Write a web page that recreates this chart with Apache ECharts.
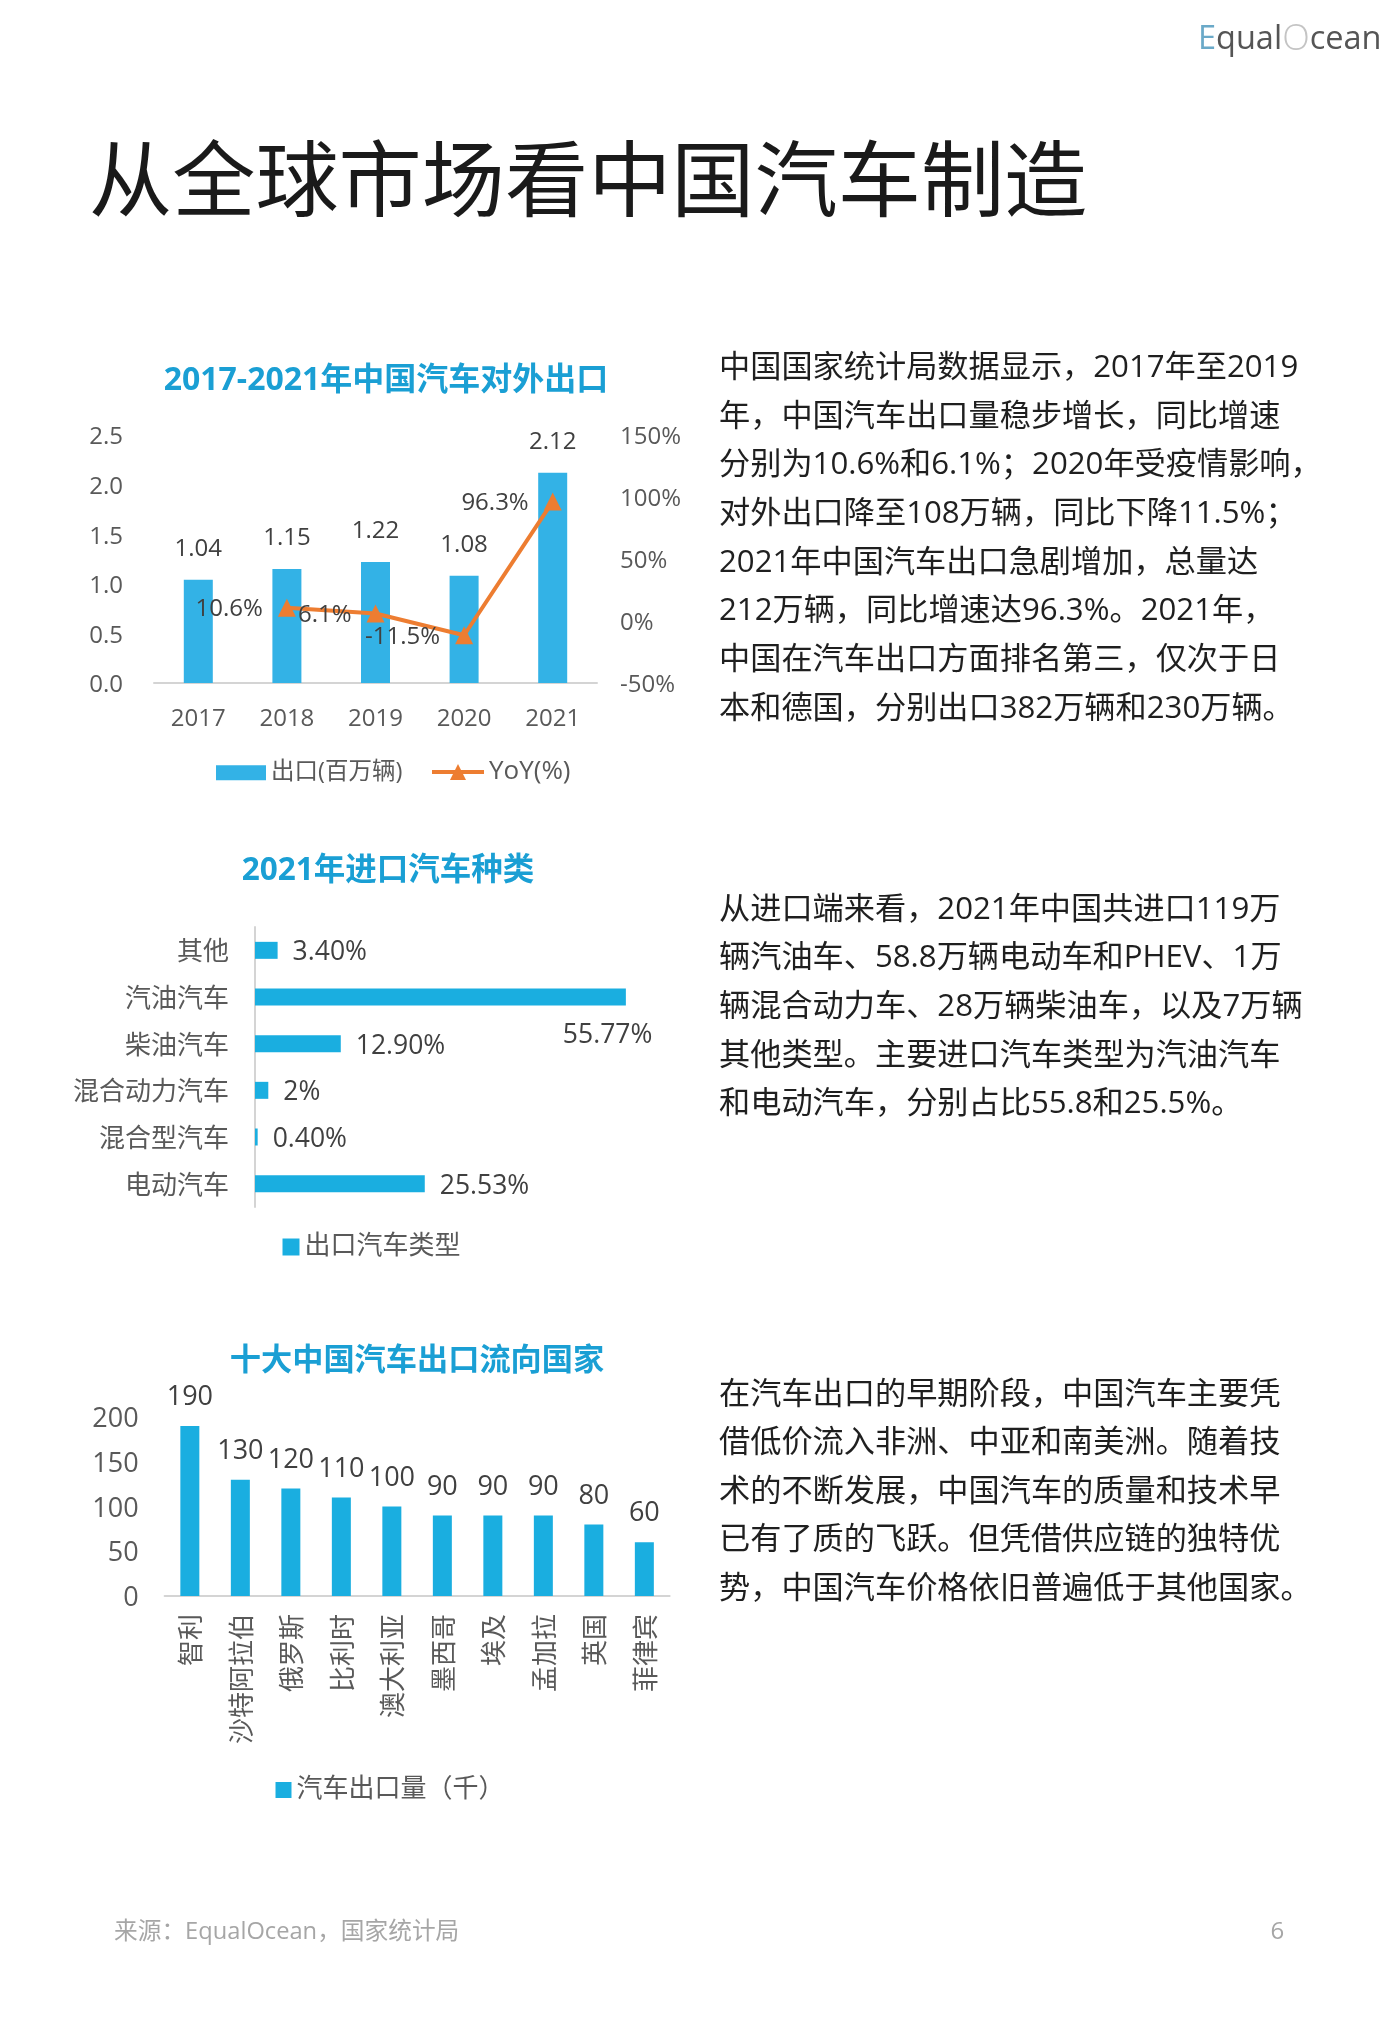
<![CDATA[<!DOCTYPE html>
<html><head><meta charset="utf-8">
<style>html,body{margin:0;padding:0;background:#fff}#c{width:1400px;height:2022px}</style>
<script src="https://cdn.jsdelivr.net/npm/echarts@6/dist/echarts.min.js"></script>
</head><body><div id="c"></div>
<script>
const years = ['2017','2018','2019','2020','2021'];
const exportsM = [1.04,1.15,1.22,1.08,2.12];
const yoy = [null,10.6,6.1,-11.5,96.3];
const importTypes = ['其他','汽油汽车','柴油汽车','混合动力汽车','混合型汽车','电动汽车'];
const importShare = [3.40,55.77,12.90,2,0.40,25.53];
const importLabels = ['3.40%','55.77%','12.90%','2%','0.40%','25.53%'];
const countries = ['智利','沙特阿拉伯','俄罗斯','比利时','澳大利亚','墨西哥','埃及','孟加拉','英国','菲律宾'];
const countryExports = [190,130,120,110,100,90,90,90,80,60];
const para1 = ['中国国家统计局数据显示，2017年至2019','年，中国汽车出口量稳步增长，同比增速','分别为10.6%和6.1%；2020年受疫情影响，','对外出口降至108万辆，同比下降11.5%；','2021年中国汽车出口急剧增加，总量达','212万辆，同比增速达96.3%。2021年，','中国在汽车出口方面排名第三，仅次于日','本和德国，分别出口382万辆和230万辆。'];
const para2 = ['从进口端来看，2021年中国共进口119万','辆汽油车、58.8万辆电动车和PHEV、1万','辆混合动力车、28万辆柴油车，以及7万辆','其他类型。主要进口汽车类型为汽油汽车','和电动汽车，分别占比55.8和25.5%。'];
const para3 = ['在汽车出口的早期阶段，中国汽车主要凭','借低价流入非洲、中亚和南美洲。随着技','术的不断发展，中国汽车的质量和技术早','已有了质的飞跃。但凭借供应链的独特优','势，中国汽车价格依旧普遍低于其他国家。'];

const F = '"Open Sans","Noto Sans CJK SC",sans-serif';
const BLUE1 = '#33b2e6', BLUE2 = '#1aaee0', ORANGE = '#ed7d31', AX = '#595959', LB = '#404040', TT = '#1a9fd4', LINE = '#d4d4d4';

const textLines = (lines, x, y0, dy) => lines.map((t,i)=>({type:'text',style:{text:t,x:x,y:y0+i*dy,font:'400 31.2px '+F,fill:'#1f1f1f',textVerticalAlign:'middle'}}));
const chartTitle = (t,cx,cy,fs)=>({type:'text',style:{text:t,x:cx,y:cy,font:'700 '+fs+'px '+F,fill:TT,textAlign:'center',textVerticalAlign:'middle'}});
const nudge = (size,color,top)=>({n:{fontSize:size,color:color,fontFamily:F,padding:[top,0,0,0]}});
const wrap = s=>'{n|'+s+'}';

const option = {
  animation:false,
  backgroundColor:'#fff',
  textStyle:{fontFamily:F},
  grid:[
    {left:154,top:435,width:443,height:248},
    {left:255,top:927,width:399,height:280},
    {left:164.6,top:1417,width:505,height:179}
  ],
  xAxis:[
    {gridIndex:0,type:'category',data:years,axisTick:{show:false},axisLine:{lineStyle:{color:LINE,width:2}},axisLabel:{fontSize:24,color:AX,margin:24,fontFamily:F}},
    {gridIndex:1,type:'value',min:0,max:60,show:false},
    {gridIndex:2,type:'category',data:countries,axisTick:{show:false},axisLine:{lineStyle:{color:LINE,width:2}},axisLabel:{color:AX,fontSize:26,margin:18,rotate:90,interval:0,fontFamily:F,formatter:wrap,rich:nudge(26,AX,6)}}
  ],
  yAxis:[
    {gridIndex:0,type:'value',min:0,max:2.5,interval:0.5,splitLine:{show:false},axisLine:{show:false},axisTick:{show:false},axisLabel:{fontSize:24,color:AX,margin:31,formatter:v=>wrap(v.toFixed(1)),rich:nudge(24,AX,5),fontFamily:F}},
    {gridIndex:0,type:'value',position:'right',min:-50,max:150,interval:50,splitLine:{show:false},axisLine:{show:false},axisTick:{show:false},axisLabel:{fontSize:24,color:AX,margin:23,formatter:v=>wrap(v+'%'),rich:nudge(24,AX,5),fontFamily:F}},
    {gridIndex:1,type:'category',inverse:true,data:importTypes,axisTick:{show:false},axisLine:{lineStyle:{color:LINE,width:2}},axisLabel:{fontSize:26,color:AX,margin:26,formatter:wrap,rich:nudge(26,AX,5),fontFamily:F}},
    {gridIndex:2,type:'value',min:0,max:200,interval:50,splitLine:{show:false},axisLine:{show:false},axisTick:{show:false},axisLabel:{fontSize:27,color:AX,margin:26,formatter:v=>wrap(v),rich:nudge(27,AX,5),fontFamily:F}}
  ],
  legend:[
    {data:[{name:'出口(百万辆)',icon:'rect'}],left:211,top:756,itemWidth:50,itemHeight:15,itemGap:6,textStyle:{fontSize:23.5,color:AX,fontFamily:F}},
    {data:['YoY(%)'],left:425,top:754,itemWidth:52,itemHeight:20,itemGap:3,lineStyle:{width:4},textStyle:{fontSize:26,color:AX,fontFamily:F}},
    {data:[{name:'出口汽车类型',icon:'rect'}],left:277.5,top:1229,itemWidth:17,itemHeight:17,itemGap:6,textStyle:{fontSize:26,color:AX,fontFamily:F}},
    {data:[{name:'汽车出口量（千）',icon:'rect'}],left:270.5,top:1772,itemWidth:16,itemHeight:16,itemGap:6,textStyle:{fontSize:26,color:AX,fontFamily:F}}
  ],
  series:[
    {name:'出口(百万辆)',type:'bar',xAxisIndex:0,yAxisIndex:0,data:exportsM,barWidth:29,itemStyle:{color:BLUE1},
      label:{show:true,position:'top',distance:19,fontSize:24,color:LB,fontFamily:F,formatter:p=>p.value.toFixed(2)}},
    {name:'YoY(%)',type:'line',xAxisIndex:0,yAxisIndex:1,data:yoy,symbol:'triangle',symbolSize:18,lineStyle:{color:ORANGE,width:4},itemStyle:{color:ORANGE},
      label:{show:true,position:'left',distance:15,fontSize:24,color:LB,fontFamily:F,rich:nudge(24,LB,3),formatter:p=>wrap(p.value+'%')}},
    {name:'出口汽车类型',type:'bar',xAxisIndex:1,yAxisIndex:2,barWidth:17,itemStyle:{color:BLUE2},
      data:importShare.map((v,i)=>i===1?{value:v,label:{offset:[-78,36]}}:v),
      label:{show:true,position:'right',distance:15,fontSize:26.5,color:LB,fontFamily:F,rich:nudge(26.5,LB,5),formatter:p=>wrap(importLabels[p.dataIndex])}},
    {name:'汽车出口量（千）',type:'bar',xAxisIndex:2,yAxisIndex:3,data:countryExports,barWidth:19,itemStyle:{color:BLUE2},
      label:{show:true,position:'top',distance:15,fontSize:27,color:LB,fontFamily:F}}
  ],
  graphic:{elements:[
    {type:'text',style:{text:'从全球市场看中国汽车制造',x:89,y:186.5,font:'400 83.2px '+F,fill:'#1a1a1a',textVerticalAlign:'middle'}},
    {type:'text',style:{x:1198,y:40,textVerticalAlign:'middle',font:'400 32.5px "Open Sans"',fill:'#555',
      text:'{e|E}{a|qual}{o|O}{a|cean}',rich:{e:{fill:'#6aa9c8',font:'400 32.5px "Open Sans"'},a:{fill:'#555',font:'400 32.5px "Open Sans"'},o:{fill:'#c4c4c4',font:'300 36px "Open Sans"'}}}},
    chartTitle('2017-2021年中国汽车对外出口',386,381,32),
    chartTitle('2021年进口汽车种类',388,871,31.5),
    chartTitle('十大中国汽车出口流向国家',417,1361,31.2),
    ...textLines(para1,719,368,48.7),
    ...textLines(para2,719,910,48.6),
    ...textLines(para3,719,1395,48.5),
    {type:'text',style:{text:'来源：EqualOcean，国家统计局',x:114,y:1932,font:'400 23.7px '+F,fill:'#a6a6a6',textVerticalAlign:'middle'}},
    {type:'text',style:{text:'6',x:1270.5,y:1932,font:'400 24px '+F,fill:'#a6a6a6',textVerticalAlign:'middle'}}
  ]}
};
echarts.init(document.getElementById('c'),null,{renderer:'canvas'}).setOption(option);
</script></body></html>]]>
